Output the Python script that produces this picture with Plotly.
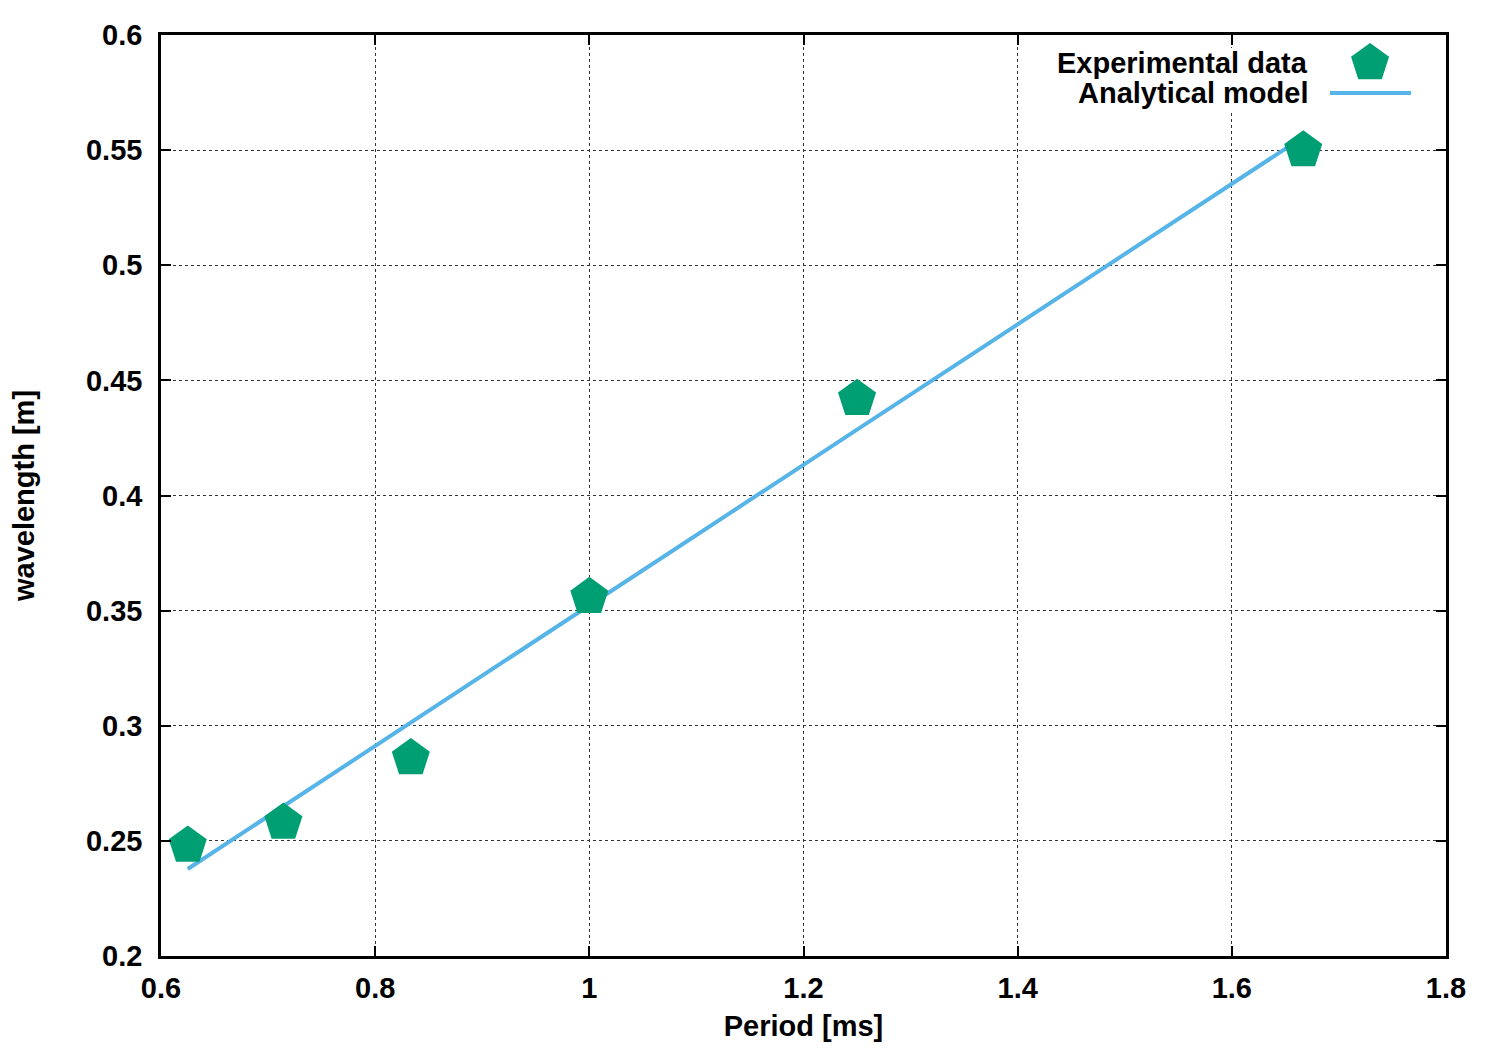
import plotly.graph_objects as go

period_ms = [0.625, 0.7143, 0.8333, 1.0, 1.25, 1.6667]
wavelength_exp = [0.248, 0.258, 0.286, 0.356, 0.442, 0.550]
wavelength_model = [0.2378, 0.2650, 0.3014, 0.3523, 0.4286, 0.5557]

x_ticks = [0.6, 0.8, 1.0, 1.2, 1.4, 1.6, 1.8]
x_labels = ["0.6", "0.8", "1", "1.2", "1.4", "1.6", "1.8"]
y_ticks = [0.2, 0.25, 0.3, 0.35, 0.4, 0.45, 0.5, 0.55, 0.6]
y_labels = ["0.2", "0.25", "0.3", "0.35", "0.4", "0.45", "0.5", "0.55", "0.6"]

GREEN = "#009e73"
BLUE = "#56b4e9"
FONT = "Liberation Sans"
FS = 29

fig = go.Figure()
fig.add_trace(go.Scatter(x=period_ms, y=wavelength_model, mode="lines",
                         line=dict(color=BLUE, width=4), name="Analytical model",
                         showlegend=False))
fig.add_trace(go.Scatter(x=period_ms, y=wavelength_exp, mode="markers",
                         marker=dict(symbol="pentagon", size=40, color=GREEN, line=dict(width=0)),
                         name="Experimental data", showlegend=False))

# legend box background and keys on an overlay axis in [0,1]
fig.add_trace(go.Scatter(x=[0.69, 0.985, 0.985, 0.69, 0.69], y=[0.9186, 0.9186, 0.986, 0.986, 0.9186],
                         mode="lines", fill="toself", fillcolor="white", line=dict(width=0, color="white"),
                         xaxis="x2", yaxis="y2", showlegend=False, hoverinfo="skip"))
fig.add_trace(go.Scatter(x=[0.9409], y=[0.9696], mode="markers", xaxis="x2", yaxis="y2",
                         marker=dict(symbol="pentagon", size=40, color=GREEN), showlegend=False,
                         hoverinfo="skip"))
fig.add_trace(go.Scatter(x=[0.9097, 0.9728], y=[0.937, 0.937], mode="lines", xaxis="x2", yaxis="y2",
                         line=dict(color=BLUE, width=4), showlegend=False, hoverinfo="skip"))

axis_common = dict(
    showline=True, linecolor="black", linewidth=2.5, mirror="ticks",
    ticks="inside", ticklen=10, tickwidth=1.5, tickcolor="black",
    showgrid=True, gridcolor="#333333", gridwidth=1, griddash="dot",
    zeroline=False,
    tickfont=dict(family=FONT, size=FS, color="black", weight="bold"),
)

fig.update_layout(
    width=1500, height=1050,
    margin=dict(l=153, r=62, t=27, b=102),
    paper_bgcolor="white", plot_bgcolor="white",
    xaxis=dict(range=[0.6, 1.8], tickvals=x_ticks, ticktext=x_labels, ticklabelstandoff=4,
               title=dict(text="Period [ms]", font=dict(family=FONT, size=FS, color="black", weight="bold"),
                          standoff=14),
               **axis_common),
    yaxis=dict(range=[0.2, 0.6], tickvals=y_ticks, ticktext=y_labels, ticklabelstandoff=10,
               title=dict(text="wavelength [m]", font=dict(family=FONT, size=FS, color="black", weight="bold"),
                          standoff=47),
               **axis_common),
    xaxis2=dict(range=[0, 1], overlaying="x", visible=False, fixedrange=True),
    yaxis2=dict(range=[0, 1], overlaying="y", visible=False, fixedrange=True),
    annotations=[
        dict(text="Experimental data", xref="paper", yref="paper", x=0.8942, y=0.9696,
             xanchor="right", yanchor="middle", showarrow=False,
             font=dict(family=FONT, size=FS, color="black", weight="bold")),
        dict(text="Analytical model", xref="paper", yref="paper", x=0.8942, y=0.937,
             xanchor="right", yanchor="middle", showarrow=False,
             font=dict(family=FONT, size=FS, color="black", weight="bold")),
    ],
)

fig.write_html("out.html")
